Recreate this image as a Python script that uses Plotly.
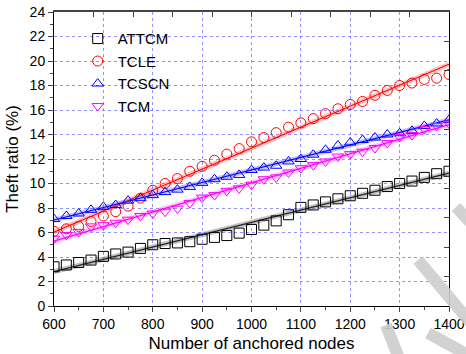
import numpy as np
import plotly.graph_objects as go

nodes = list(range(600, 1401, 25))
attcm = [3.2, 3.35, 3.55, 3.75, 4.05, 4.25, 4.4, 4.7, 5.0, 5.1, 5.15, 5.25,
         5.45, 5.6, 5.75, 5.95, 6.25, 6.6, 6.95, 7.45, 8.05, 8.25, 8.5,
         8.75, 9.0, 9.2, 9.45, 9.75, 10.0, 10.2, 10.5, 10.8, 11.0]
tcle = [6.1, 6.3, 6.5, 6.9, 7.35, 7.7, 8.15, 8.8, 9.45, 10.0, 10.4, 11.0,
        11.4, 11.9, 12.4, 12.85, 13.4, 13.75, 14.15, 14.6, 14.95, 15.3, 15.7,
        16.1, 16.45, 16.7, 17.2, 17.6, 18.0, 18.2, 18.5, 18.6, 18.9]
tcscn = [7.1, 7.35, 7.55, 7.85, 8.1, 8.25, 8.6, 8.8, 9.05, 9.3, 9.5, 9.72,
         10.05, 10.35, 10.55, 10.7, 11.1, 11.3, 11.45, 11.8, 12.0, 12.35, 12.75,
         13.1, 13.35, 13.55, 13.75, 14.0, 14.1, 14.3, 14.7, 14.9, 15.2]
tcm = [5.5, 5.8, 6.05, 6.5, 6.6, 6.8, 7.05, 7.35, 7.55, 7.7, 7.95, 8.4,
       8.85, 9.05, 9.4, 9.6, 9.9, 10.35, 10.5, 10.9, 11.25, 11.5, 11.8,
       12.2, 12.4, 12.6, 12.9, 13.3, 13.8, 13.95, 14.45, 14.7, 14.9]

series = [
    ("ATTCM", attcm, "#222222", "rgba(120,120,120,0.45)", "square-open", "#000000"),
    ("TCLE", tcle, "#ff0000", "rgba(255,80,80,0.35)", "circle-open", "#ff0000"),
    ("TCSCN", tcscn, "#0000ff", "rgba(80,80,255,0.35)", "triangle-up-open", "#0000ff"),
    ("TCM", tcm, "#ff00ff", "rgba(255,80,255,0.35)", "triangle-down-open", "#ff00ff"),
]

fig = go.Figure()
x = np.array(nodes, dtype=float)
for name, ys, lc, bc, sym, mc in series:
    k, b = np.polyfit(x, np.array(ys), 1)
    fx = [nodes[0], nodes[-1]]
    fy = [k * v + b for v in fx]
    fig.add_trace(go.Scatter(x=fx, y=fy, mode="lines", line=dict(color=bc, width=5),
                             showlegend=False, hoverinfo="skip"))
    fig.add_trace(go.Scatter(x=fx, y=fy, mode="lines", line=dict(color=lc, width=1.2),
                             showlegend=False, hoverinfo="skip"))

for name, ys, lc, bc, sym, mc in series:
    fig.add_trace(go.Scatter(x=nodes, y=ys, mode="markers", name=name,
                             marker=dict(symbol=sym, size=10, color=mc,
                                         line=dict(color=mc, width=1))))

# invisible trace for mirrored axes
fig.add_trace(go.Scatter(x=[600], y=[0], xaxis="x2", yaxis="y2", mode="markers",
                         marker=dict(opacity=0), showlegend=False, hoverinfo="skip"))

# light grey watermark strokes (decoration), in pixel -> paper coordinates
def px(xp):
    return (xp - 54) / 395.0

def py(yp):
    return (306 - yp) / 294.0

wm = "rgba(205,205,205,0.9)"
strokes = [((418, 260), (470, 322)), ((456, 207), (470, 222)),
           ((428, 333), (470, 356)), ((386, 325), (398, 356))]
shapes = []
for (x0, y0), (x1, y1) in strokes:
    shapes.append(dict(type="line", xref="paper", yref="paper",
                       x0=px(x0), y0=py(y0), x1=px(x1), y1=py(y1),
                       line=dict(color=wm, width=12), layer="above"))

grid = "rgba(110,110,255,0.75)"
font = "Liberation Sans, Arial, sans-serif"
fig.update_layout(
    width=466, height=354,
    margin=dict(l=54, r=17, t=12, b=48, autoexpand=False),
    paper_bgcolor="white", plot_bgcolor="white",
    font=dict(family=font, size=14, color="black"),
    shapes=shapes,
    xaxis=dict(range=[600, 1400], dtick=100, tick0=600, ticks="outside", ticklen=5,
               showline=True, linecolor="black", linewidth=1, automargin=False,
               showgrid=True, gridcolor=grid, griddash="dot", gridwidth=1,
               zeroline=False,
               minor=dict(ticks="outside", ticklen=3, dtick=50, tick0=600, showgrid=False),
               title=dict(text="Number of anchored nodes", font=dict(size=17), standoff=6)),
    yaxis=dict(range=[0, 24], dtick=2, ticks="outside", ticklen=5,
               showline=True, linecolor="black", linewidth=1, automargin=False,
               showgrid=True, gridcolor=grid, griddash="dot", gridwidth=1,
               zeroline=False,
               minor=dict(ticks="outside", ticklen=3, dtick=1, showgrid=False),
               title=dict(text="Theft ratio (%)", font=dict(size=17), standoff=6)),
    xaxis2=dict(overlaying="x", side="top", range=[600, 1400], dtick=80, tick0=600,
                ticks="inside", ticklen=5, showticklabels=False, showgrid=False,
                automargin=False,
                showline=True, linecolor="#444444", linewidth=2, zeroline=False),
    yaxis2=dict(overlaying="y", side="right", range=[0, 24], dtick=2.4, tick0=0,
                ticks="inside", ticklen=5, showticklabels=False, showgrid=False,
                automargin=False,
                showline=True, linecolor="black", linewidth=1, zeroline=False),
    legend=dict(x=0.06, y=0.965, xanchor="left", yanchor="top",
                bgcolor="rgba(0,0,0,0)", font=dict(size=15), tracegroupgap=0,
                itemwidth=30),
)

fig.write_html("out.html")
